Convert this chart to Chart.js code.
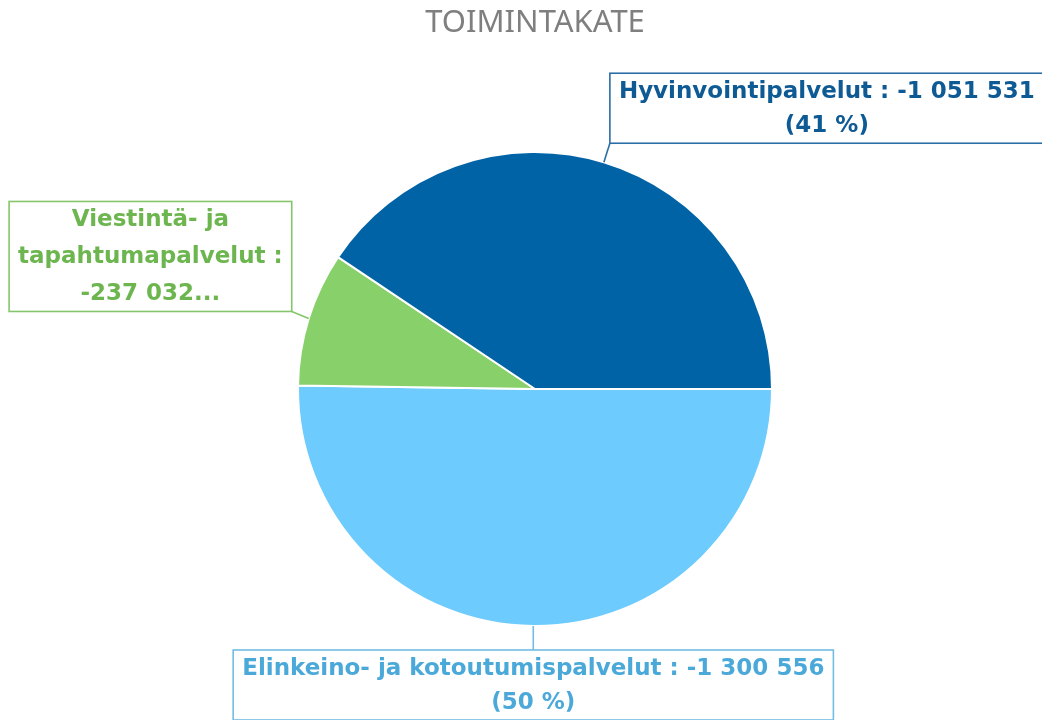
<!DOCTYPE html>
<html><head><meta charset="utf-8">
<script src="https://cdn.jsdelivr.net/npm/chart.js@4.4.1/dist/chart.umd.min.js"></script>
<style>html,body{margin:0;padding:0;background:#fff;overflow:hidden}#wrap{width:1042px;height:720px;position:relative}</style>
</head><body><div id="wrap"><canvas id="c"></canvas></div>
<script>
const chartTitle = 'TOIMINTAKATE';
const categories = ['Elinkeino- ja kotoutumispalvelut', 'Viestintä- ja tapahtumapalvelut', 'Hyvinvointipalvelut'];
const values = [-1300556, -237032, -1051531];
// label texts as shown in the original (the middle one is wrapped and truncated)
const labelLines = [
  ['Elinkeino- ja kotoutumispalvelut : -1 300 556', '(50 %)'],
  ['Viestintä- ja', 'tapahtumapalvelut :', '-237 032...'],
  ['Hyvinvointipalvelut : -1 051 531', '(41 %)']
];

const sliceColors = ['#6dcbfd', '#88d06a', '#0063a6'];
const labelColors = ['#4ba9da', '#6db64f', '#0e5a95'];
const labelBorders = ['#72bde4', '#86c66b', '#2a6ea6'];
const labelLayout = [
  {dx: 0, dy: 24, anchor: 'top', lineH: 34},
  {dx: -17, dy: -7, anchor: 'bottomright', lineH: 37},
  {dx: 6, dy: -19, anchor: 'bottomleft', lineH: 34}
];
const LABEL_FONT = 'bold 23px "DejaVu Sans"';
const PAD_X = 9, PAD_Y_FIRST = 18;

const labelPlugin = {
  id: 'boxLabels',
  afterDraw(chart) {
    const ctx = chart.ctx;
    const meta = chart.getDatasetMeta(0);
    const ca = chart.chartArea;
    ctx.save();
    // title
    ctx.font = '31px "Noto Sans"';
    ctx.fillStyle = '#7f7f7f';
    ctx.textAlign = 'center';
    ctx.textBaseline = 'middle';
    ctx.fillText(chartTitle, (ca.left + ca.right) / 2, 23);

    meta.data.forEach((arc, i) => {
      const p = arc.getProps(['x', 'y', 'startAngle', 'endAngle', 'outerRadius'], true);
      const mid = (p.startAngle + p.endAngle) / 2;
      const sx = p.x + Math.cos(mid) * p.outerRadius;
      const sy = p.y + Math.sin(mid) * p.outerRadius;
      const L = labelLayout[i];
      const ex = sx + L.dx, ey = sy + L.dy;
      ctx.font = LABEL_FONT;
      const lines = labelLines[i];
      const w = Math.max(...lines.map(t => ctx.measureText(t).width)) + 2 * PAD_X;
      const h = 2 * PAD_Y_FIRST + (lines.length - 1) * L.lineH;
      let bx, by;
      if (L.anchor === 'top') { bx = ex - w / 2; by = ey; }
      else if (L.anchor === 'bottomright') { bx = ex - w; by = ey - h; }
      else { bx = ex; by = ey - h; }
      ctx.strokeStyle = labelBorders[i];
      ctx.lineWidth = 1.6;
      ctx.beginPath();
      ctx.moveTo(sx, sy); ctx.lineTo(ex, ey);
      ctx.stroke();
      ctx.fillStyle = '#ffffff';
      ctx.fillRect(bx, by, w, h);
      ctx.strokeRect(bx, by, w, h);
      ctx.fillStyle = labelColors[i];
      ctx.textAlign = 'center';
      ctx.textBaseline = 'middle';
      lines.forEach((t, k) => ctx.fillText(t, bx + w / 2, by + PAD_Y_FIRST + k * L.lineH + 1));
    });
    ctx.restore();
  }
};

new Chart(document.getElementById('c'), {
  type: 'pie',
  data: {
    labels: categories,
    datasets: [{
      data: values.map(v => Math.abs(v)),
      backgroundColor: sliceColors,
      borderColor: '#ffffff',
      borderWidth: 2
    }]
  },
  options: {
    responsive: true,
    maintainAspectRatio: false,
    animation: false,
    rotation: 90,
    layout: {padding: {left: 297, right: 269, top: 151, bottom: 93}},
    plugins: {legend: {display: false}, tooltip: {enabled: false}, title: {display: false}}
  },
  plugins: [labelPlugin]
});
</script>
</body></html>
